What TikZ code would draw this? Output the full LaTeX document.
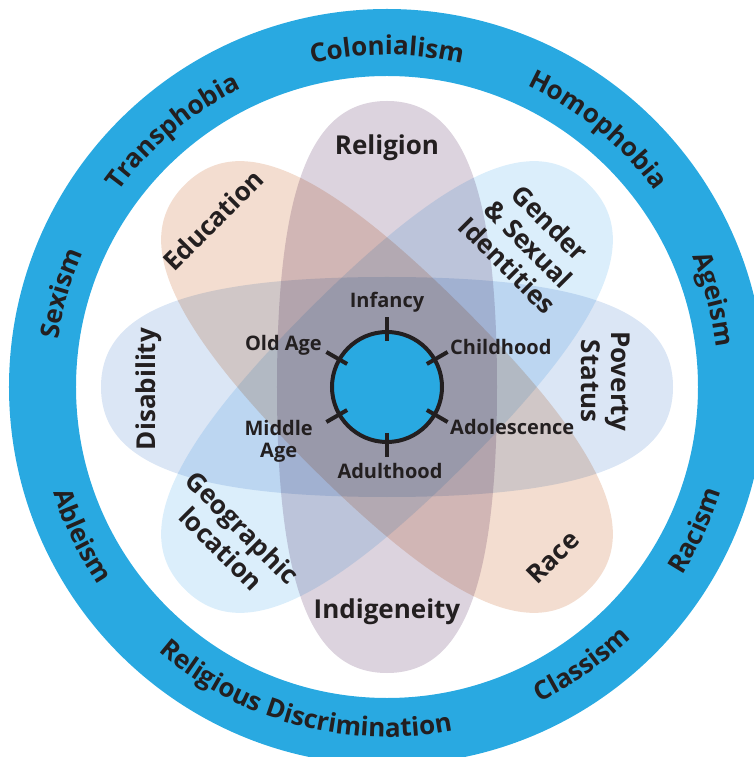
\documentclass[tikz,border=0pt]{standalone}
\usepackage{fontspec}
\setmainfont{Open Sans}
\usetikzlibrary{decorations.text}

\definecolor{ringblue}{HTML}{29A9E1}
\definecolor{mauve}{HTML}{DCD3DE}
\definecolor{peach}{HTML}{F3DDD0}
\definecolor{skyblue}{HTML}{DBEEFB}
\definecolor{lavender}{HTML}{DBE6F5}
\definecolor{ink}{HTML}{231F20}

\newcommand{\ringfont}{\fontsize{26}{30}\selectfont\bfseries\color{ink}}

\tikzstyle{petal} = [blend mode=multiply]
\tikzstyle{petallabel} = [font=\fontsize{26}{30}\selectfont\bfseries, text=ink, align=center, inner sep=0pt]
\tikzstyle{stagelabel} = [font=\fontsize{20}{22}\selectfont\bfseries, text=ink, align=center, inner sep=0pt]
\tikzstyle{stagetick} = [draw=ink, line width=4pt]
\tikzstyle{hub} = [circle, draw=ink, line width=4pt, fill=ringblue, minimum size=110pt, inner sep=0pt]

\begin{document}
\begin{tikzpicture}[x=1pt,y=1pt]
  \useasboundingbox (-387,-370) rectangle (367,387);
  \clip (-387,-370) rectangle (367,387);

  %outer ring
  \fill[ringblue, even odd rule] (0,0) circle (378) (0,0) circle (311);
  \foreach \ang/\word in {90/Colonialism, 50.6/Homophobia, 15/Ageism, 130/Transphobia, 164/Sexism}
  {
    \path[decorate, decoration={text along path, text align=center,
      text/.expanded={|\noexpand\ringfont|\word}}]
      (\ang+50:332) arc (\ang+50:\ang-50:332);
  }
  \foreach \ang/\word in {-25/Racism, -55/Classism, -105/Religious Discrimination, -154/Ableism}
  {
    \path[decorate, decoration={text along path, text align=center,
      text/.expanded={|\noexpand\ringfont|\word}}]
      (\ang-50:350) arc (\ang-50:\ang+50:350);
  }

  %petals (fat ellipses, one per axis)
  \foreach \ang/\col in {90/mauve, 0/lavender, -45/peach, 45/skyblue}
    \fill[petal, fill=\col, rotate=\ang]
      (286,0) .. controls (286,72) and (210,110) .. (0,110)
      .. controls (-210,110) and (-286,72) .. (-286,0)
      .. controls (-286,-72) and (-210,-110) .. (0,-110)
      .. controls (210,-110) and (286,-72) .. (286,0) -- cycle;

  \foreach \name/\x/\y/\rot/\txt in {
    religion/0/239/0/Religion,
    indigeneity/0/-225/0/Indigeneity,
    disability/-238/-2/90/Disability,
    poverty/219/6/-90/{Poverty\\Status},
    education/-174/167/45/Education,
    gender/142/143/-45/{Gender\\\& Sexual\\Identities},
    geographic/-155/-151/-45/{Geographic\\location},
    race/166/-170/45/Race}
  {
    \node[petallabel, rotate=\rot] (\name) at (\x,\y) {\txt};
  };

  %life stages
  \node[hub] (hub) at (0,0) {};
  \foreach \ang in {90,30,-30,-90,-150,150}
    \draw[stagetick] (\ang:46) -- (\ang:70);

  \foreach \name/\x/\y/\anc/\txt in {
    infancy/0/85/center/Infancy,
    childhood/63/40/west/Childhood,
    adolescence/63/-40/west/Adolescence,
    adulthood/3/-84/center/Adulthood,
    middleage/-74/-54/east/{Middle\\Age},
    oldage/-65/42/east/{Old Age}}
  {
    \node[stagelabel, anchor=\anc] (\name) at (\x,\y) {\txt};
  };
\end{tikzpicture}
\end{document}
